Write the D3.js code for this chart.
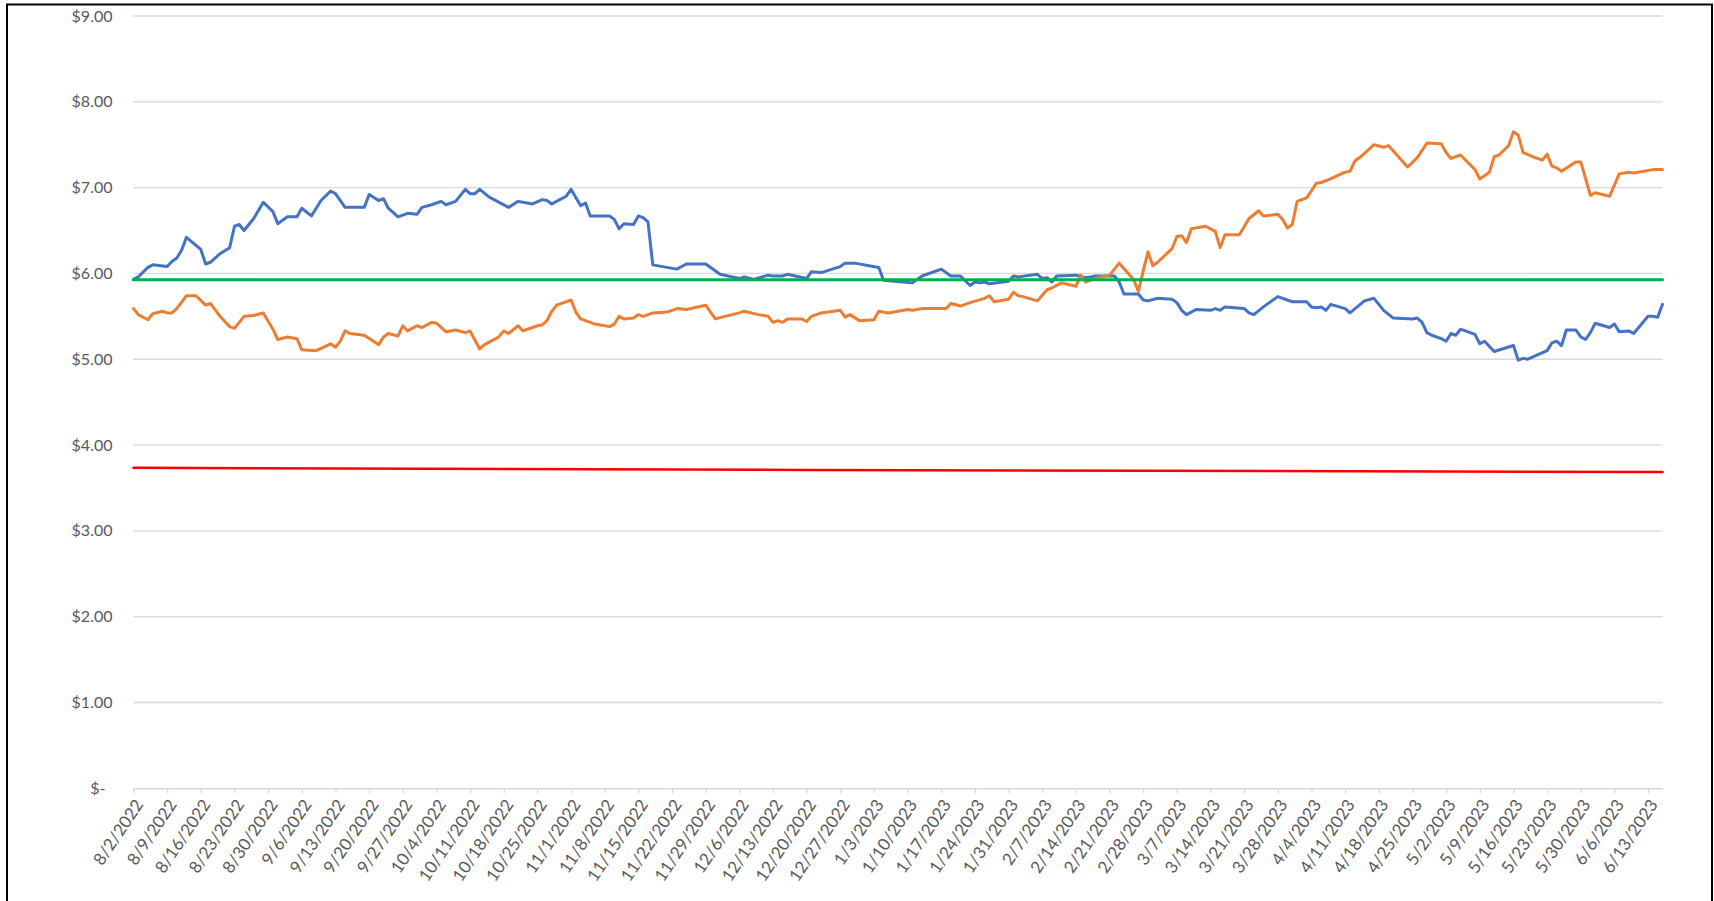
<!DOCTYPE html>
<html>
<head>
<meta charset="utf-8">
<script src="https://cdn.jsdelivr.net/npm/d3@7"></script>
<style>
  html, body { margin: 0; padding: 0; background: #fff; }
  svg { display: block; }
  text { font-family: Lato, "Open Sans", "Liberation Sans", sans-serif; }
</style>
</head>
<body>
<svg id="chart" width="1714" height="901"></svg>
<script>
// ---------------- DATA ----------------
const xTickLabels = ["8/2/2022","8/9/2022","8/16/2022","8/23/2022","8/30/2022","9/6/2022","9/13/2022","9/20/2022","9/27/2022","10/4/2022","10/11/2022","10/18/2022","10/25/2022","11/1/2022","11/8/2022","11/15/2022","11/22/2022","11/29/2022","12/6/2022","12/13/2022","12/20/2022","12/27/2022","1/3/2023","1/10/2023","1/17/2023","1/24/2023","1/31/2023","2/7/2023","2/14/2023","2/21/2023","2/28/2023","3/7/2023","3/14/2023","3/21/2023","3/28/2023","4/4/2023","4/11/2023","4/18/2023","4/25/2023","5/2/2023","5/9/2023","5/16/2023","5/23/2023","5/30/2023","6/6/2023","6/13/2023"];
const xDomain = ["8/2/2022", "6/16/2023"];
const yTickValues = [0, 1, 2, 3, 4, 5, 6, 7, 8, 9];
const yTickLabels = ["$-", "$1.00", "$2.00", "$3.00", "$4.00", "$5.00", "$6.00", "$7.00", "$8.00", "$9.00"];

const blueDates = [
  "8/2/2022","8/3/2022","8/5/2022","8/6/2022","8/9/2022","8/10/2022","8/11/2022","8/12/2022","8/13/2022","8/16/2022","8/17/2022","8/18/2022","8/20/2022","8/22/2022","8/23/2022","8/24/2022","8/25/2022","8/27/2022","8/29/2022","8/31/2022",
  "9/1/2022","9/3/2022","9/5/2022","9/6/2022","9/8/2022","9/10/2022","9/12/2022","9/13/2022","9/15/2022","9/19/2022","9/20/2022","9/22/2022","9/23/2022","9/24/2022","9/26/2022","9/28/2022","9/30/2022",
  "10/1/2022","10/3/2022","10/5/2022","10/6/2022","10/8/2022","10/10/2022","10/11/2022","10/12/2022","10/13/2022","10/15/2022","10/19/2022","10/21/2022","10/24/2022","10/26/2022","10/27/2022","10/28/2022","10/31/2022",
  "11/1/2022","11/3/2022","11/4/2022","11/5/2022","11/9/2022","11/10/2022","11/11/2022","11/12/2022","11/14/2022","11/15/2022","11/16/2022","11/17/2022","11/18/2022","11/23/2022","11/25/2022","11/29/2022",
  "12/2/2022","12/6/2022","12/7/2022","12/9/2022","12/12/2022","12/13/2022","12/15/2022","12/16/2022","12/20/2022","12/21/2022","12/23/2022","12/27/2022","12/28/2022","12/30/2022",
  "1/4/2023","1/5/2023","1/9/2023","1/11/2023","1/13/2023","1/17/2023","1/19/2023","1/21/2023","1/23/2023","1/24/2023","1/25/2023","1/26/2023","1/27/2023","1/31/2023",
  "2/1/2023","2/2/2023","2/6/2023","2/7/2023","2/8/2023","2/9/2023","2/10/2023","2/14/2023","2/16/2023","2/17/2023","2/18/2023","2/22/2023","2/23/2023","2/24/2023","2/27/2023","2/28/2023",
  "3/1/2023","3/3/2023","3/6/2023","3/7/2023","3/8/2023","3/9/2023","3/11/2023","3/14/2023","3/15/2023","3/16/2023","3/17/2023","3/21/2023","3/22/2023","3/23/2023","3/25/2023","3/28/2023","3/31/2023",
  "4/3/2023","4/4/2023","4/5/2023","4/6/2023","4/7/2023","4/8/2023","4/11/2023","4/12/2023","4/15/2023","4/17/2023","4/19/2023","4/21/2023","4/25/2023","4/26/2023","4/27/2023","4/28/2023","4/29/2023",
  "5/1/2023","5/2/2023","5/3/2023","5/4/2023","5/5/2023","5/8/2023","5/9/2023","5/10/2023","5/12/2023","5/16/2023","5/17/2023","5/18/2023","5/19/2023","5/23/2023","5/24/2023","5/25/2023","5/26/2023","5/27/2023","5/29/2023","5/30/2023","5/31/2023",
  "6/1/2023","6/2/2023","6/5/2023","6/6/2023","6/7/2023","6/9/2023","6/10/2023","6/13/2023","6/14/2023","6/15/2023","6/16/2023"
];
const blueValues = [
  5.93,5.96,6.07,6.10,6.08,6.14,6.18,6.27,6.42,6.28,6.11,6.13,6.23,6.30,6.55,6.57,6.50,6.64,6.83,6.72,
  6.58,6.66,6.66,6.76,6.67,6.85,6.96,6.93,6.77,6.77,6.92,6.85,6.87,6.76,6.66,6.70,6.69,
  6.77,6.80,6.84,6.80,6.84,6.98,6.93,6.93,6.98,6.89,6.77,6.84,6.81,6.86,6.85,6.81,6.90,
  6.98,6.79,6.82,6.67,6.67,6.63,6.52,6.58,6.57,6.67,6.65,6.60,6.10,6.05,6.11,6.11,
  5.99,5.94,5.96,5.93,5.98,5.97,5.97,5.99,5.94,6.02,6.01,6.08,6.12,6.12,
  6.07,5.92,5.90,5.89,5.97,6.05,5.97,5.97,5.86,5.90,5.89,5.90,5.88,5.91,
  5.97,5.96,5.99,5.94,5.95,5.90,5.97,5.98,5.95,5.96,5.97,5.97,5.90,5.76,5.76,5.69,
  5.68,5.71,5.70,5.66,5.57,5.52,5.58,5.57,5.59,5.57,5.61,5.59,5.54,5.52,5.61,5.73,5.67,
  5.67,5.61,5.60,5.61,5.57,5.64,5.59,5.54,5.68,5.71,5.57,5.48,5.47,5.48,5.43,5.31,5.28,
  5.24,5.21,5.30,5.28,5.35,5.29,5.18,5.21,5.09,5.16,4.99,5.01,5.00,5.10,5.19,5.21,5.16,5.34,5.34,5.26,5.23,
  5.31,5.42,5.37,5.41,5.32,5.33,5.30,5.50,5.50,5.49,5.64
];

const orangeDates = [
  "8/2/2022","8/3/2022","8/5/2022","8/6/2022","8/8/2022","8/9/2022","8/10/2022","8/11/2022","8/13/2022","8/15/2022","8/17/2022","8/18/2022","8/20/2022","8/22/2022","8/23/2022","8/25/2022","8/27/2022","8/29/2022","8/31/2022",
  "9/1/2022","9/3/2022","9/5/2022","9/6/2022","9/9/2022","9/12/2022","9/13/2022","9/14/2022","9/15/2022","9/16/2022","9/19/2022","9/22/2022","9/23/2022","9/24/2022","9/26/2022","9/27/2022","9/28/2022","9/30/2022",
  "10/1/2022","10/3/2022","10/4/2022","10/5/2022","10/6/2022","10/8/2022","10/10/2022","10/11/2022","10/13/2022","10/14/2022","10/17/2022","10/18/2022","10/19/2022","10/21/2022","10/22/2022","10/25/2022","10/26/2022","10/27/2022","10/28/2022","10/29/2022",
  "11/1/2022","11/2/2022","11/3/2022","11/6/2022","11/9/2022","11/10/2022","11/11/2022","11/12/2022","11/14/2022","11/15/2022","11/16/2022","11/18/2022","11/21/2022","11/23/2022","11/25/2022","11/29/2022",
  "12/1/2022","12/3/2022","12/6/2022","12/7/2022","12/10/2022","12/12/2022","12/13/2022","12/14/2022","12/15/2022","12/16/2022","12/19/2022","12/20/2022","12/21/2022","12/23/2022","12/27/2022","12/28/2022","12/29/2022","12/31/2022",
  "1/3/2023","1/4/2023","1/6/2023","1/10/2023","1/11/2023","1/13/2023","1/18/2023","1/19/2023","1/21/2023","1/23/2023","1/26/2023","1/27/2023","1/28/2023","1/31/2023",
  "2/1/2023","2/2/2023","2/3/2023","2/6/2023","2/8/2023","2/9/2023","2/11/2023","2/14/2023","2/15/2023","2/16/2023","2/18/2023","2/21/2023","2/23/2023","2/26/2023","2/27/2023","2/28/2023",
  "3/1/2023","3/2/2023","3/3/2023","3/6/2023","3/7/2023","3/8/2023","3/9/2023","3/10/2023","3/13/2023","3/15/2023","3/16/2023","3/17/2023","3/20/2023","3/22/2023","3/24/2023","3/25/2023","3/28/2023","3/29/2023","3/30/2023","3/31/2023",
  "4/1/2023","4/3/2023","4/5/2023","4/6/2023","4/7/2023","4/11/2023","4/12/2023","4/13/2023","4/14/2023","4/16/2023","4/17/2023","4/19/2023","4/20/2023","4/24/2023","4/26/2023","4/28/2023",
  "5/1/2023","5/2/2023","5/3/2023","5/5/2023","5/8/2023","5/9/2023","5/11/2023","5/12/2023","5/13/2023","5/15/2023","5/16/2023","5/17/2023","5/18/2023","5/20/2023","5/22/2023","5/23/2023","5/24/2023","5/25/2023","5/26/2023","5/29/2023","5/30/2023",
  "6/1/2023","6/2/2023","6/5/2023","6/7/2023","6/9/2023","6/10/2023","6/14/2023","6/16/2023"
];
const orangeValues = [
  5.59,5.52,5.46,5.53,5.56,5.54,5.54,5.59,5.74,5.74,5.63,5.65,5.50,5.38,5.36,5.50,5.51,5.54,5.35,
  5.23,5.26,5.24,5.11,5.10,5.18,5.14,5.21,5.33,5.30,5.28,5.17,5.26,5.30,5.27,5.39,5.33,5.39,
  5.37,5.43,5.42,5.37,5.32,5.34,5.31,5.33,5.12,5.17,5.26,5.33,5.30,5.39,5.33,5.39,5.40,5.45,5.56,5.63,
  5.69,5.55,5.47,5.41,5.38,5.41,5.50,5.47,5.48,5.52,5.50,5.54,5.55,5.59,5.58,5.63,
  5.47,5.50,5.54,5.56,5.52,5.50,5.43,5.45,5.43,5.47,5.47,5.44,5.50,5.54,5.57,5.49,5.52,5.45,
  5.46,5.56,5.54,5.58,5.57,5.59,5.59,5.65,5.62,5.66,5.71,5.74,5.67,5.70,
  5.78,5.74,5.73,5.68,5.81,5.83,5.89,5.85,5.98,5.90,5.94,5.98,6.12,5.93,5.79,6.03,
  6.25,6.09,6.13,6.29,6.43,6.44,6.36,6.52,6.55,6.49,6.30,6.45,6.45,6.64,6.73,6.67,6.69,6.63,6.53,6.57,
  6.84,6.88,7.05,7.06,7.08,7.18,7.19,7.31,7.35,7.45,7.50,7.47,7.49,7.24,7.35,7.52,
  7.51,7.41,7.34,7.38,7.21,7.10,7.18,7.36,7.38,7.49,7.65,7.61,7.41,7.36,7.32,7.39,7.25,7.23,7.19,7.30,7.30,
  6.91,6.94,6.90,7.16,7.18,7.17,7.21,7.21
];

const greenDates = ["8/2/2022", "6/16/2023"];
const greenValues = [5.925, 5.925];

const redDates = ["8/2/2022", "12/20/2022", "6/16/2023"];
const redValues = [3.735, 3.71, 3.685];

const seriesColors = { blue: "#4472C4", orange: "#ED7D31", green: "#00B050", red: "#FF0000" };

// ---------------- CHART ----------------
const parse = d3.timeParse("%m/%d/%Y");
const svg = d3.select("#chart");

const plot = { left: 133.5, right: 1662.5, top: 16, bottom: 788.3 };

const x = d3.scaleTime()
  .domain(xDomain.map(parse))
  .range([plot.left, plot.right]);
const y = d3.scaleLinear()
  .domain([0, 9])
  .range([plot.bottom, plot.top]);

// outer frame
svg.append("rect")
  .attr("x", 7).attr("y", 4.5)
  .attr("width", 1705).attr("height", 940)
  .attr("fill", "none").attr("stroke", "#000").attr("stroke-width", 2);

// gridlines
svg.append("g").selectAll("line")
  .data(yTickValues.filter(v => v !== 0))
  .join("line")
  .attr("x1", plot.left).attr("x2", plot.right)
  .attr("y1", d => y(d)).attr("y2", d => y(d))
  .attr("stroke", "#d9d9d9").attr("stroke-width", 1.3);

// y-axis labels
const yAxis = d3.axisLeft(y)
  .tickValues(yTickValues)
  .tickFormat((d, i) => yTickLabels[i])
  .tickSize(0)
  .tickPadding(21);
const gy = svg.append("g").attr("transform", `translate(${plot.left},0)`).call(yAxis);
gy.select(".domain").remove();
gy.selectAll("text")
  .attr("fill", "#595959")
  .style("font-size", "16px")
  .attr("dx", d => d === 0 ? -7 : 0);

// x-axis
const xAxis = d3.axisBottom(x)
  .tickValues(xTickLabels.map(parse))
  .tickFormat((d, i) => xTickLabels[i])
  .tickSizeInner(5).tickSizeOuter(0);
const gx = svg.append("g").attr("transform", `translate(0,${plot.bottom})`).call(xAxis);
gx.select(".domain").attr("stroke", "#d9d9d9").attr("stroke-width", 1.5);
gx.selectAll(".tick line").attr("stroke", "#d9d9d9").attr("stroke-width", 1.3);
gx.selectAll(".tick text")
  .attr("fill", "#595959")
  .style("font-size", "17px")
  .attr("text-anchor", "end")
  .attr("y", 0).attr("dy", "0.35em")
  .attr("transform", "translate(5,13) rotate(-56)");

// lines
const line = d3.line()
  .x(d => x(d[0]))
  .y(d => y(d[1]));

function drawSeries(dates, values, color, width) {
  const pts = dates.map((d, i) => [parse(d), values[i]]);
  svg.append("path")
    .datum(pts)
    .attr("d", line)
    .attr("fill", "none")
    .attr("stroke", color)
    .attr("stroke-width", width)
    .attr("stroke-linejoin", "round")
    .attr("stroke-linecap", "round");
}

drawSeries(blueDates, blueValues, seriesColors.blue, 3);
drawSeries(orangeDates, orangeValues, seriesColors.orange, 3);
drawSeries(greenDates, greenValues, seriesColors.green, 3);
drawSeries(redDates, redValues, seriesColors.red, 2.5);
</script>
</body>
</html>
